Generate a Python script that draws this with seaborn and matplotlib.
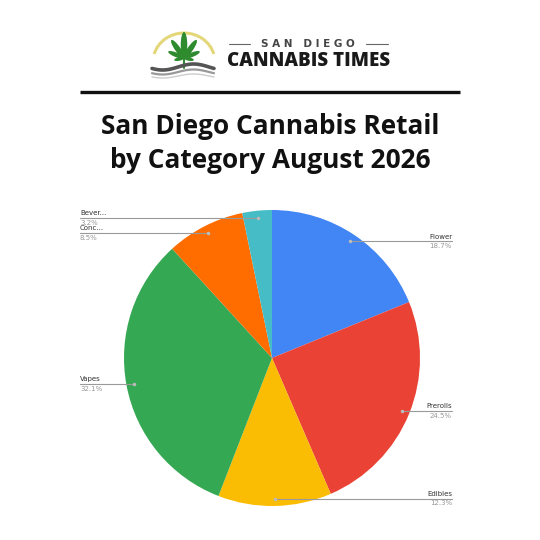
import numpy as np
import matplotlib
matplotlib.use("Agg")
import matplotlib.pyplot as plt
import matplotlib.patches as mpatches
import seaborn as sns

# ---- data ----
categories = ["Flower", "Prerolls", "Edibles", "Vapes", "Concentrates", "Beverages"]
short_labels = ["Flower", "Prerolls", "Edibles", "Vapes", "Conc...", "Bever..."]
shares = [18.7, 24.5, 12.3, 32.1, 8.5, 3.2]
colors = ["#4285F4", "#EA4335", "#FBBC04", "#34A853", "#FF6D01", "#46BDC6"]
title_lines = ["San Diego Cannabis Retail", "by Category August 2026"]

sns.set_theme(style="white")
plt.rcParams["font.family"] = ["DejaVu Sans"]
palette = sns.color_palette(colors)

W = H = 540
fig = plt.figure(figsize=(5.4, 5.4), dpi=100)
fig.patch.set_facecolor("white")

# overlay axes in pixel coordinates
ov = fig.add_axes([0, 0, 1, 1])
ov.set_xlim(0, W)
ov.set_ylim(H, 0)
ov.axis("off")

# ---- logo ----
arc = mpatches.Arc((184, 62), 62, 58, theta1=195, theta2=345,
                   color="#E3D77A", lw=2.2)
ov.add_patch(arc)
cx, cy = 184, 58
for ang, ln, wd in [(90, 26, 6.5), (55, 22, 5.5), (125, 22, 5.5), (22, 17, 4.5),
                    (158, 17, 4.5), (-12, 10, 3.5), (192, 10, 3.5)]:
    a = np.deg2rad(ang)
    ex = cx + np.cos(a) * ln / 2
    ey = cy - np.sin(a) * ln / 2
    ov.add_patch(mpatches.Ellipse((ex, ey), ln, wd, angle=-ang, color="#2E8B2E", lw=0))
ov.plot([184, 184], [56, 68], color="#2E8B2E", lw=1.5)
xs = np.linspace(152, 214, 60)
ov.plot(xs, 67 + 3 * np.sin((xs - 152) / 62 * 2 * np.pi + 0.5), color="#555555", lw=2.6)
ov.plot(xs, 72 + 2.5 * np.sin((xs - 152) / 62 * 2 * np.pi + 0.5), color="#999999", lw=1.6)
ov.plot(xs, 76 + 2.0 * np.sin((xs - 152) / 62 * 2 * np.pi + 0.5), color="#cccccc", lw=1.0)
# text
ov.plot([229, 250], [44, 44], color="#666666", lw=0.8)
ov.plot([366, 388], [44, 44], color="#666666", lw=0.8)
ov.text(308, 44, "S A N   D I E G O", ha="center", va="center", fontsize=7.5,
        color="#444444", family=["DejaVu Sans"], fontweight="bold")
ov.text(309, 61, "CANNABIS TIMES", ha="center", va="center", fontsize=13.5,
        color="#1a1a1a", family=["Open Sans", "DejaVu Sans"], fontweight="heavy")

# separator line
ov.plot([80, 460], [92, 92], color="#111111", lw=2.4, solid_capstyle="butt")

# title
for i, line in enumerate(title_lines):
    ov.text(270, 126 + 35 * i, line, ha="center", va="center", fontsize=18.9,
            fontweight="bold", color="#111111", family=["Open Sans", "DejaVu Sans"])

# ---- pie ----
pcx, pcy, R = 272, 358, 148
ax = fig.add_axes([(pcx - R) / W, (H - pcy - R) / H, 2 * R / W, 2 * R / H])
wedges, _ = ax.pie(shares, colors=palette, startangle=90, counterclock=False,
                   radius=1.0, wedgeprops=dict(linewidth=0))
ax.set_xlim(-1, 1)
ax.set_ylim(-1, 1)
ax.set_aspect("equal")
ax.axis("off")

right_x = (452 - pcx) / R
left_x = (80 - pcx) / R
for w, lab, val in zip(wedges, short_labels, shares):
    mid = np.deg2rad((w.theta1 + w.theta2) / 2)
    dx, dy = 0.95 * np.cos(mid), 0.95 * np.sin(mid)
    if np.cos(mid) >= 0:
        tx, ha = right_x, "right"
    else:
        tx, ha = left_x, "left"
    ax.plot([dx, tx], [dy, dy], color="#9a9a9a", lw=0.8, clip_on=False)
    ax.plot([dx], [dy], "o", ms=1.5, color="#bbbbbb", clip_on=False)
    ax.text(tx, dy + 0.012, lab, ha=ha, va="bottom", fontsize=5, color="#333333",
            clip_on=False)
    ax.text(tx, dy - 0.012, f"{val}%", ha=ha, va="top", fontsize=5, color="#999999",
            clip_on=False)

fig.savefig("out.png", dpi=100, facecolor="white")
